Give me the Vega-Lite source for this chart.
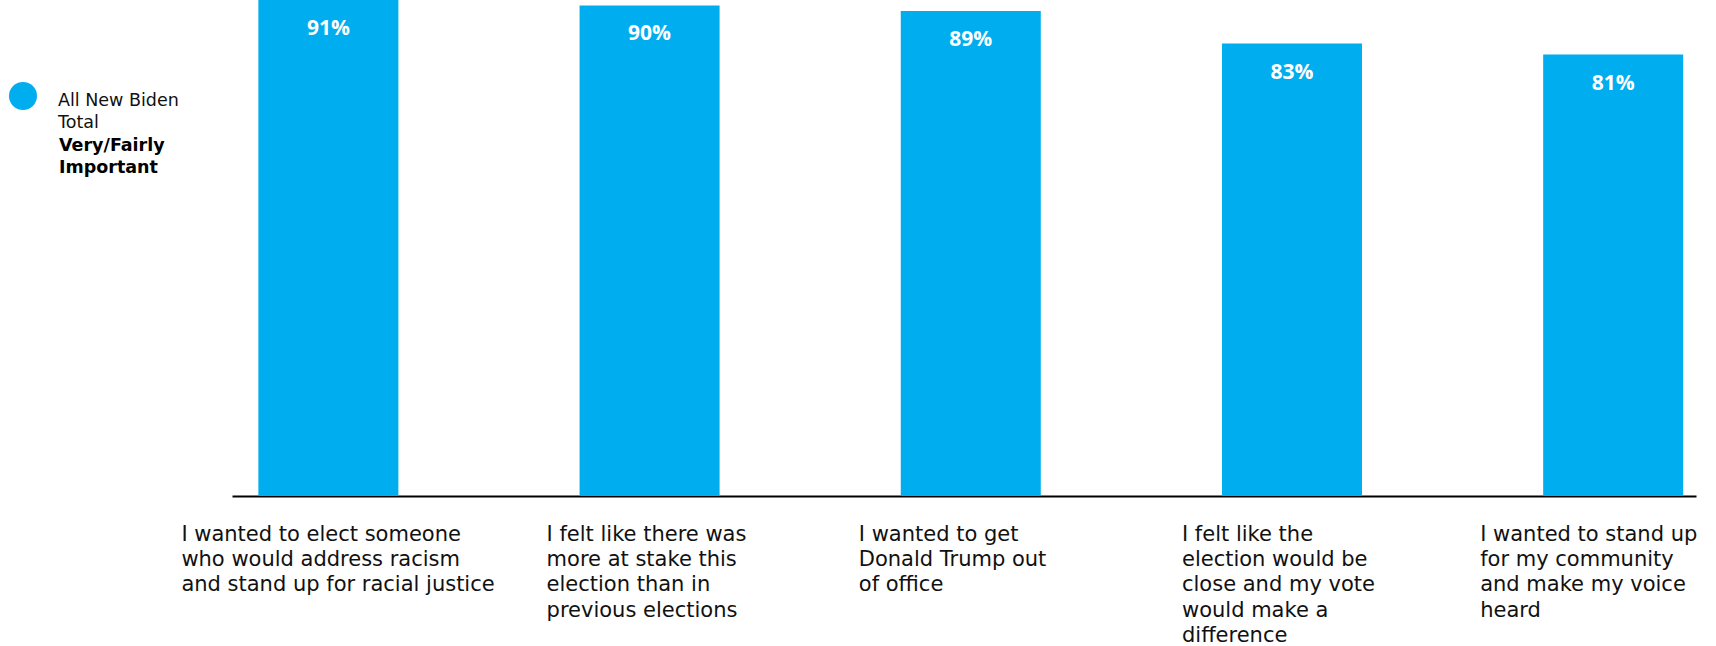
{
  "$schema": "https://vega.github.io/schema/vega-lite/v6.json",
  "autosize": {"type": "none"},
  "width": 1464,
  "height": 496,
  "padding": {"left": 232, "top": 0, "right": 20, "bottom": 150},
  "background": "#ffffff",
  "config": {
    "font": "DejaVu Sans",
    "view": {"stroke": null}
  },
  "data": {
    "values": [
      {"reason": "I wanted to elect someone|who would address racism|and stand up for racial justice", "pct": 0.91, "series": "All New Biden Total"},
      {"reason": "I felt like there was|more at stake this|election than in|previous elections", "pct": 0.90, "series": "All New Biden Total"},
      {"reason": "I wanted to get|Donald Trump out|of office", "pct": 0.89, "series": "All New Biden Total"},
      {"reason": "I felt like the|election would be|close and my vote|would make a|difference", "pct": 0.83, "series": "All New Biden Total"},
      {"reason": "I wanted to stand up|for my community|and make my voice|heard", "pct": 0.81, "series": "All New Biden Total"}
    ]
  },
  "encoding": {
    "x": {
      "field": "reason",
      "type": "nominal",
      "sort": null,
      "scale": {"paddingInner": 0.5641, "paddingOuter": 0.061, "align": 0.673},
      "axis": {
        "title": null,
        "labelExpr": "split(datum.label, '|')",
        "labelAngle": 0,
        "labelAlign": "left",
        "labelBaseline": "top",
        "labelFont": "DejaVu Sans",
        "labelFontSize": 21,
        "labelLineHeight": 25.4,
        "labelColor": "#111111",
        "labelPadding": 27,
        "labelLimit": 0,
        "labelOverlap": false,
        "labelFlush": false,
        "labelOffset": {
          "condition": [
            {"test": "datum.index < 0.1", "value": -147},
            {"test": "datum.index > 0.2 && datum.index < 0.3", "value": -103},
            {"test": "datum.index > 0.45 && datum.index < 0.55", "value": -112},
            {"test": "datum.index > 0.7 && datum.index < 0.8", "value": -110}
          ],
          "value": -133
        },
        "ticks": false,
        "tickSize": 0,
        "domainColor": "#000000",
        "domainWidth": 2
      }
    },
    "y": {
      "field": "pct",
      "type": "quantitative",
      "scale": {"domain": [0, 0.91], "nice": false},
      "axis": null
    }
  },
  "layer": [
    {
      "mark": {"type": "bar", "color": "#00ADEF"},
      "encoding": {
        "color": {
          "field": "series",
          "type": "nominal",
          "scale": {"range": ["#00ADEF"]},
          "legend": {
            "orient": "none",
            "legendX": -223,
            "legendY": 82,
            "padding": 0,
            "symbolType": "circle",
            "symbolSize": 784,
            "symbolStrokeWidth": 0,
            "symbolFillColor": "#00ADEF",
            "labelExpr": "['All New Biden', 'Total']",
            "labelFont": "DejaVu Sans",
            "labelFontSize": 17.5,
            "labelLineHeight": 22,
            "labelColor": "#111111",
            "labelBaseline": "top",
            "labelOffset": 21,
            "title": ["Very/Fairly", "Important"],
            "titleOrient": "bottom",
            "titleFont": "DejaVu Sans",
            "titleFontSize": 17.5,
            "titleFontWeight": "bold",
            "titleLineHeight": 22,
            "titleColor": "#000000",
            "titlePadding": 5,
            "encode": {
              "labels": {"update": {"dy": {"value": -4}, "lineHeight": {"value": 22}}},
              "title": {"update": {"dx": {"value": 50}}}
            }
          }
        }
      }
    },
    {
      "mark": {"type": "text", "color": "#ffffff", "font": "Open Sans", "fontSize": 21, "fontWeight": "bold", "baseline": "middle", "dy": 29},
      "encoding": {
        "text": {"field": "pct", "type": "quantitative", "format": ".0%"}
      }
    }
  ]
}
